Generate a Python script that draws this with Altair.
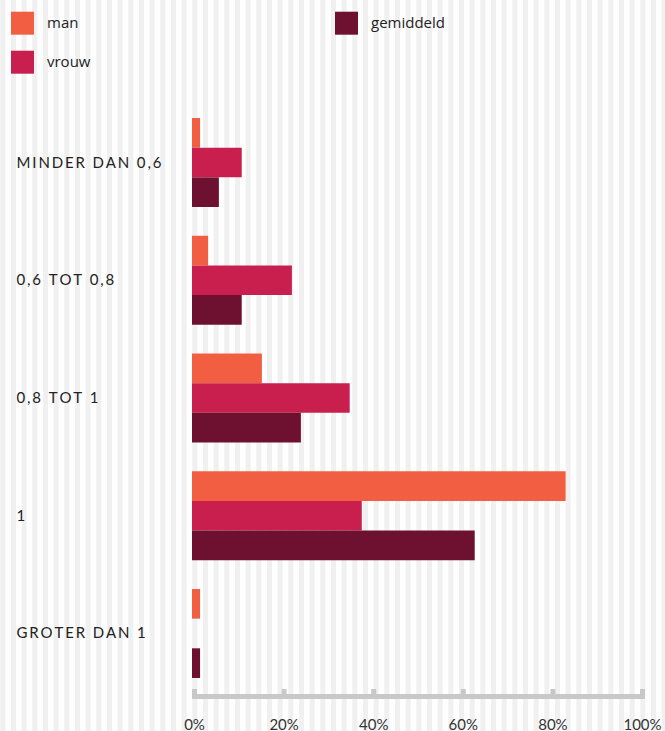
import altair as alt
import pandas as pd

# ---- data ----
categories = ["MINDER DAN 0,6", "0,6 TOT 0,8", "0,8 TOT 1", "1", "GROTER DAN 1"]
series = ["man", "vrouw", "gemiddeld"]
man = [1.8, 3.6, 15.6, 83.4, 1.8]
vrouw = [11.1, 22.3, 35.2, 37.9, 0.0]
gemiddeld = [6.0, 11.1, 24.3, 63.1, 1.8]
series_colors = ["#F25E42", "#C81F4E", "#6E1030"]
tick_values = [0, 20, 40, 60, 80, 100]

rows = []
for i, c in enumerate(categories):
    for s, vals in zip(series, [man, vrouw, gemiddeld]):
        rows.append({"categorie": c, "groep": s, "waarde": vals[i]})
df = pd.DataFrame(rows)

W, H = 448, 596
PAD_L, PAD_T, PAD_R, PAD_B = 192, 100, 25, 35

# background stripes (decoration)
stripe_df = pd.DataFrame({"k": list(range(63))})
STEP = 10.667
stripes = (
    alt.Chart(stripe_df)
    .transform_calculate(k2="datum.k + 0.47")
    .mark_rect(color="#f0f0f0")
    .encode(
        x=alt.X("k:Q", scale=alt.Scale(domain=[0, 62], range=[-PAD_L + 0.3, -PAD_L + 0.3 + 62 * STEP],
                                        nice=False, zero=False), axis=None),
        x2="k2:Q",
        y=alt.value(-PAD_T),
        y2=alt.value(H + PAD_B),
    )
)

axis_df = pd.DataFrame({"a": [0], "b": [100]})
axis_line = (
    alt.Chart(axis_df)
    .mark_rule(color="#c8c8c8", strokeWidth=5, x2Offset=5)
    .encode(x="a:Q", x2="b:Q", y=alt.value(H + 0.5))
)
ticks = (
    alt.Chart(pd.DataFrame({"v": tick_values}))
    .mark_rule(color="#c8c8c8", strokeWidth=5, xOffset=2.5)
    .encode(x="v:Q", y=alt.value(H - 7), y2=alt.value(H + 1))
)

# letter-spaced display of the category labels (hair spaces between characters)
spaced_label = "join(split(datum.label, ''), '\u200a\u200a')"

bars = (
    alt.Chart(df)
    .mark_bar()
    .encode(
        y=alt.Y(
            "categorie:N",
            sort=categories,
            scale=alt.Scale(paddingInner=0.244, paddingOuter=0.153),
            axis=alt.Axis(title=None, domain=False, ticks=False, tickSize=0, grid=False,
                          labelAlign="left", labelPadding=176, labelFont="Lato",
                          labelFontSize=15, labelColor="#222222", labelBaseline="middle",
                          labelLimit=250, zindex=2, labelExpr=spaced_label),
        ),
        yOffset=alt.YOffset("groep:N", sort=series, scale=alt.Scale(paddingInner=0, paddingOuter=0)),
        x=alt.X(
            "waarde:Q",
            scale=alt.Scale(domain=[0, 100], nice=False),
            axis=alt.Axis(title=None, values=tick_values, labelExpr="datum.value + '%'",
                          domain=False, ticks=False, tickSize=0, grid=False,
                          labelFont="Lato", labelFontSize=15, labelColor="#333333",
                          labelBaseline="alphabetic", labelPadding=33, labelOffset=2,
                          labelFlush=False, zindex=2),
        ),
        color=alt.Color(
            "groep:N",
            scale=alt.Scale(domain=series, range=series_colors),
            legend=alt.Legend(title=None, orient="none", legendX=-181, legendY=-88.3,
                              columns=2, symbolType="square", symbolSize=529,
                              symbolStrokeWidth=0, symbolOpacity=1, labelFont="Open Sans",
                              labelFontSize=15, labelColor="#222222", labelOffset=13,
                              rowPadding=16, columnPadding=214, padding=0, gridAlign="all",
                              zindex=2),
        ),
    )
)

inner = alt.layer(axis_line, ticks, bars)
chart = (
    alt.layer(stripes, inner)
    .resolve_scale(x="independent")
    .properties(
        width=W,
        height=H,
        padding={"left": PAD_L, "top": PAD_T, "right": PAD_R, "bottom": PAD_B},
        autosize=alt.AutoSizeParams(type="none"),
        background="#ffffff",
    )
    .configure_view(stroke=None)
)

chart.save("out.html", embed_options={"renderer": "svg", "actions": False})
